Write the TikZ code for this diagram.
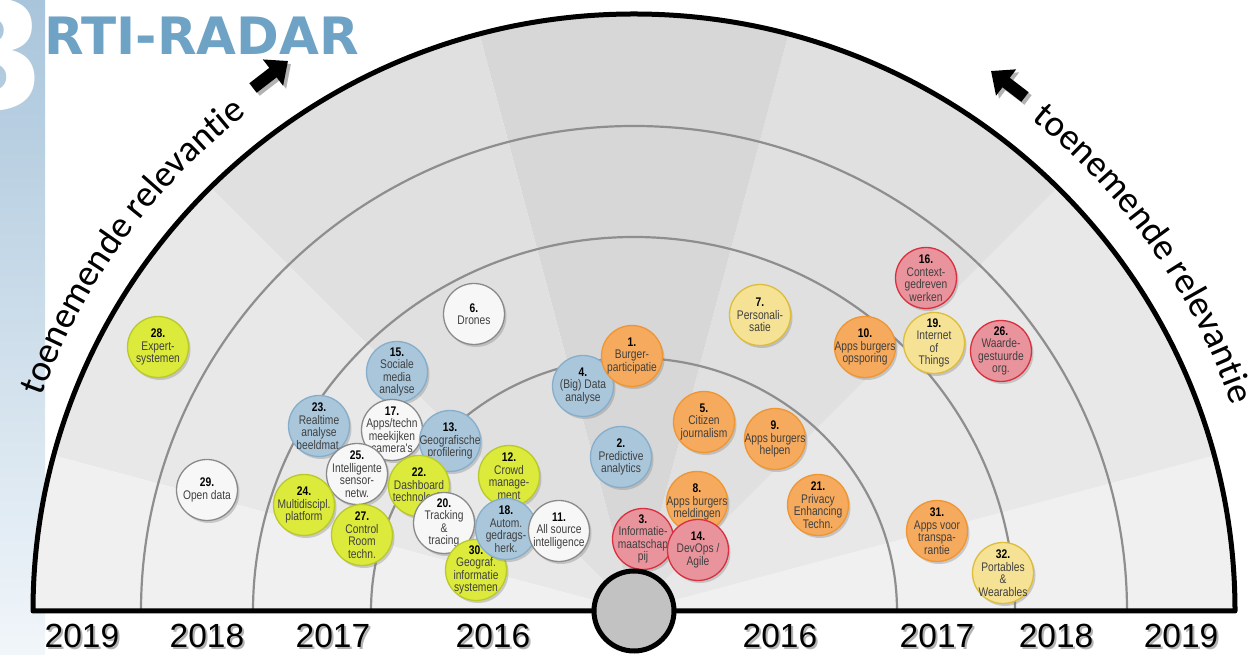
\documentclass[tikz,border=0pt]{standalone}
\usepackage{fontspec}
\setmainfont{Liberation Sans}
\newfontfamily\narrowfont[FakeStretch=0.82]{Liberation Sans}
\newfontfamily\titlefont{DejaVu Sans}
\newfontfamily\curvefont{Carlito}
\usetikzlibrary{arrows.meta,decorations.text,shadows,calc}

\definecolor{bluefill}{HTML}{A9C6DB}
\definecolor{blueline}{HTML}{86AECB}
\definecolor{orangefill}{HTML}{F5AA5E}
\definecolor{orangeline}{HTML}{EF9532}
\definecolor{redfill}{HTML}{E9939D}
\definecolor{redline}{HTML}{D9303F}
\definecolor{yelfill}{HTML}{F6E295}
\definecolor{yelline}{HTML}{DDBD3A}
\definecolor{limefill}{HTML}{DCEA3C}
\definecolor{limeline}{HTML}{B9C92A}
\definecolor{whitefill}{HTML}{F7F7F7}
\definecolor{whiteline}{HTML}{8A8A8A}
\definecolor{titleblue}{HTML}{6FA3C5}
\definecolor{barblue}{HTML}{A9C5DB}
\definecolor{barmid}{HTML}{C9DBE8}
\definecolor{barlow}{HTML}{F1F6FA}
\definecolor{ringgray}{HTML}{8E8E8E}
\definecolor{hubgray}{HTML}{C2C2C2}
\definecolor{wzin}{HTML}{F0F0F0}\definecolor{wzout}{HTML}{F8F8F8}
\definecolor{waain}{HTML}{E8E8E8}\definecolor{waaout}{HTML}{F4F4F4}
\definecolor{wbbin}{HTML}{E0E0E0}\definecolor{wbbout}{HTML}{F0F0F0}
\definecolor{wccin}{HTML}{D7D7D7}\definecolor{wccout}{HTML}{EDEDED}
\colorlet{wedgein}{wzin}
\colorlet{wedgeout}{wzout}
\pgfdeclareradialshading[wedgein,wedgeout]{wedgeshade}{\pgfpoint{0bp}{0bp}}{color(0bp)=(wedgein); color(15bp)=(wedgein); color(25bp)=(wedgeout); color(50bp)=(wedgeout)}

\newcommand\bnum[1]{{\color{black}\bfseries #1}\\}
\newcommand\bub[5]{%
  \node[#1] (b#2) at (#3,#4) {};
  \node[btext] (t#2) at (b#2) {\bnum{#2.}#5};
}

\tikzset{
  bubble/.style={circle, minimum size=61pt, inner sep=0pt, line width=1.3pt,
    drop shadow={shadow xshift=2pt, shadow yshift=-2.5pt, opacity=0.35}},
  btext/.style={inner sep=0pt, align=center, text=black!75,
    font=\narrowfont\fontsize{12.5}{12.5}\selectfont},
  bblue/.style={bubble, fill=bluefill, draw=blueline},
  borange/.style={bubble, fill=orangefill, draw=orangeline},
  bred/.style={bubble, fill=redfill, draw=redline},
  byellow/.style={bubble, fill=yelfill, draw=yelline},
  blime/.style={bubble, fill=limefill, draw=limeline},
  bwhite/.style={bubble, fill=whitefill, draw=whiteline},
  yearlbl/.style={anchor=base, inner sep=0pt, font=\fontsize{33.5}{33.5}\selectfont},
  yearshadow/.style={yearlbl, text=black!30},
  ringline/.style={draw=ringgray, line width=2.2pt},
  bigarrow/.style={line width=12pt, -{Triangle[length=19pt,width=32pt]}},
}

\begin{document}
\begin{tikzpicture}[x=1pt,y=1pt]
\useasboundingbox (0,0) rectangle (1258,655);
\coordinate (C) at (634,44);

% left bar
\fill[top color=barblue, middle color=barmid, bottom color=barlow] (0,0) rectangle (45,655);
\node[anchor=base east, inner sep=0pt, text=white,
  font=\titlefont\bfseries\fontsize{150}{150}\selectfont] (chap) at (47,545) {3};
\node[anchor=base west, inner sep=0pt, text=titleblue,
  font=\titlefont\bfseries\fontsize{51.5}{51.5}\selectfont] (title) at (44,600) {RTI-RADAR};

% background wedges
\begin{scope}
  \clip (33,44) arc[start angle=180, end angle=0, x radius=601, y radius=597] -- cycle;
  \foreach \a/\b/\ci/\co in {0/15/wzin/wzout, 15/45/waain/waaout, 45/75/wbbin/wbbout,
      75/105/wccin/wccout, 105/135/wbbin/wbbout, 135/165/waain/waaout, 165/180/wzin/wzout}{
    \begin{scope}
      \clip (C) -- ($(C)+(\a:720)$) -- ($(C)+(\b:720)$) -- cycle;
      \colorlet{wedgein}{\ci}\colorlet{wedgeout}{\co}
      \shade[shading=wedgeshade] (C) circle (1202);
    \end{scope}
  }
\end{scope}

% rings
\draw[ringline] (371,44) arc[start angle=180, end angle=0, x radius=263, y radius=253];
\draw[ringline] (253,44) arc[start angle=180, end angle=0, x radius=381, y radius=374];
\draw[ringline] (141,44) arc[start angle=180, end angle=0, x radius=493, y radius=485];
\draw[line width=5pt, line join=round] (33,44) arc[start angle=180, end angle=0, x radius=601, y radius=597] -- cycle;

% bubbles
\bub{bblue}{4}{583}{269}{(Big) Data\\analyse}
\bub{borange}{1}{632}{299}{Burger-\\participatie}
\bub{bblue}{15}{397}{283}{Sociale\\media\\analyse}
\bub{bblue}{23}{319}{229}{Realtime\\analyse\\beeldmat.}
\bub{bwhite}{17}{392}{225}{Apps/techn\\meekijken\\camera's}
\bub{bblue}{13}{450}{214}{Geografische\\profilering}
\bub{bwhite}{25}{357}{181}{Intelligente\\sensor-\\netw.}
\bub{blime}{24}{304}{150}{Multidiscipl.\\platform}
\bub{blime}{22}{419}{169}{Dashboard\\technologie}
\bub{blime}{27}{362}{120}{Control\\Room\\techn.}
\bub{blime}{12}{509}{179}{Crowd\\manage-\\ment}
\bub{bwhite}{20}{444}{132}{Tracking\\\&\\tracing}
\bub{blime}{30}{476}{85}{Geograf.\\informatie\\systemen}
\bub{bblue}{18}{506}{126}{Autom.\\gedrags-\\herk.}
\bub{bwhite}{11}{559}{124}{All source\\intelligence}
\bub{bblue}{2}{621}{198}{Predictive\\analytics}
\bub{borange}{8}{697}{153}{Apps burgers\\meldingen}
\bub{bred}{3}{643}{116}{Informatie-\\maatschap\\pij}
\bub{bred}{14}{698}{105}{DevOps /\\Agile}
\bub{borange}{5}{704}{233}{Citizen\\journalism}
\bub{borange}{9}{775}{216}{Apps burgers\\helpen}
\bub{borange}{21}{818}{150}{Privacy\\Enhancing\\Techn.}
\bub{bwhite}{6}{474}{341}{Drones}
\bub{byellow}{7}{760}{340}{Personali-\\satie}
\bub{borange}{10}{865}{308}{Apps burgers\\opsporing}
\bub{bred}{16}{926}{377}{Context-\\gedreven\\werken}
\bub{byellow}{19}{934}{312}{Internet\\of\\Things}
\bub{bred}{26}{1001}{304}{Waarde-\\gestuurde\\org.}
\bub{blime}{28}{158}{308}{Expert-\\systemen}
\bub{bwhite}{29}{207}{165}{Open data}
\bub{borange}{31}{937}{124}{Apps voor\\transpa-\\rantie}
\bub{byellow}{32}{1003}{82}{Portables\\\&\\Wearables}

% hub
\node[circle, fill=hubgray, draw=black, line width=5pt, minimum size=80pt, inner sep=0pt] (hub) at (C) {};

% years (with shadows)
\foreach \xx/\yy/\nm in {82/2019/a, 207/2018/b, 333/2017/c, 493/2016/d, 780/2016/e, 937/2017/f, 1056/2018/g, 1181/2019/h}{
  \node[yearshadow] (ys\nm) at (\xx+2,5) {\yy};
  \node[yearlbl] (yr\nm) at (\xx,7) {\yy};
}

% curved labels
\path[xshift=2.5pt, yshift=-2.5pt, decorate, decoration={text along path, text align=center, text color=black!30,
  text={|\curvefont\fontsize{37}{37}\selectfont|toenemende relevantie}}]
  ($(C)+(164:630)$) arc[start angle=164, end angle=124, radius=630];
\path[decorate, decoration={text along path, text align=center,
  text={|\curvefont\fontsize{37}{37}\selectfont|toenemende relevantie}}]
  ($(C)+(164:630)$) arc[start angle=164, end angle=124, radius=630];
\path[xshift=2.5pt, yshift=-2.5pt, decorate, decoration={text along path, text align=center, text color=black!30,
  text={|\curvefont\fontsize{37}{37}\selectfont|toenemende relevantie}}]
  ($(C)+(55:632)$) arc[start angle=55, end angle=15, radius=632];
\path[decorate, decoration={text along path, text align=center,
  text={|\curvefont\fontsize{37}{37}\selectfont|toenemende relevantie}}]
  ($(C)+(55:632)$) arc[start angle=55, end angle=15, radius=632];

% arrows
\coordinate (la1) at (253,567);
\coordinate (la2) at (288,594);
\coordinate (ra1) at (1025,558);
\coordinate (ra2) at (991,584);
\draw[bigarrow, black!30] ([shift={(3,-3)}]la1) -- ([shift={(3,-3)}]la2);
\draw[bigarrow, black!30] ([shift={(3,-3)}]ra1) -- ([shift={(3,-3)}]ra2);
\draw[bigarrow] (la1) -- (la2);
\draw[bigarrow] (ra1) -- (ra2);
\end{tikzpicture}
\end{document}
